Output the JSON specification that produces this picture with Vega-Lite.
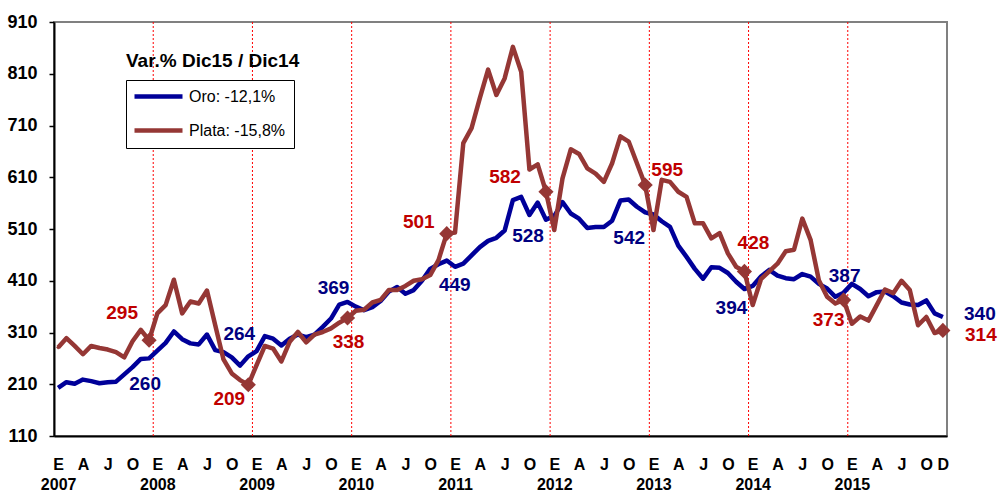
{
  "$schema": "https://vega.github.io/schema/vega-lite/v6.json",
  "width": 893,
  "height": 414,
  "autosize": {"type": "none"},
  "padding": {"left": 54, "top": 22, "right": 51, "bottom": 56},
  "background": "white",
  "config": {"font": "Liberation Sans", "view": {"stroke": "#808080", "strokeWidth": 2}},
  "title": {"text": "Var.% Dic15 / Dic14", "anchor": "start", "frame": "group", "dx": 72, "dy": 62, "fontSize": 19, "fontWeight": "bold", "color": "black", "font": "Liberation Sans"},
  "datasets": {
    "precios": [
      {"i":0,"oro":203,"plata":281},{"i":1,"oro":214,"plata":299},{"i":2,"oro":211,"plata":284},{"i":3,"oro":219,"plata":268},{"i":4,"oro":216,"plata":284},{"i":5,"oro":212,"plata":280},{"i":6,"oro":214,"plata":277},{"i":7,"oro":215,"plata":272},{"i":8,"oro":229,"plata":262},{"i":9,"oro":243,"plata":293},{"i":10,"oro":259,"plata":315},{"i":11,"oro":260,"plata":295},
      {"i":12,"oro":275,"plata":347},{"i":13,"oro":290,"plata":363},{"i":14,"oro":312,"plata":412},{"i":15,"oro":297,"plata":347},{"i":16,"oro":289,"plata":370},{"i":17,"oro":287,"plata":366},{"i":18,"oro":306,"plata":391},{"i":19,"oro":276,"plata":324},{"i":20,"oro":272,"plata":258},{"i":21,"oro":262,"plata":231},{"i":22,"oro":246,"plata":218},{"i":23,"oro":264,"plata":209},
      {"i":24,"oro":274,"plata":247},{"i":25,"oro":303,"plata":284},{"i":26,"oro":298,"plata":279},{"i":27,"oro":285,"plata":254},{"i":28,"oro":298,"plata":292},{"i":29,"oro":306,"plata":311},{"i":30,"oro":301,"plata":291},{"i":31,"oro":306,"plata":306},{"i":32,"oro":321,"plata":311},{"i":33,"oro":337,"plata":318},{"i":34,"oro":364,"plata":329},{"i":35,"oro":369,"plata":338},
      {"i":36,"oro":360,"plata":352},{"i":37,"oro":353,"plata":354},{"i":38,"oro":359,"plata":368},{"i":39,"oro":371,"plata":373},{"i":40,"oro":389,"plata":392},{"i":41,"oro":398,"plata":392},{"i":42,"oro":385,"plata":400},{"i":43,"oro":392,"plata":410},{"i":44,"oro":410,"plata":413},{"i":45,"oro":433,"plata":421},{"i":46,"oro":442,"plata":450},{"i":47,"oro":449,"plata":501},
      {"i":48,"oro":437,"plata":503},{"i":49,"oro":443,"plata":676},{"i":50,"oro":459,"plata":705},{"i":51,"oro":475,"plata":763},{"i":52,"oro":487,"plata":818},{"i":53,"oro":493,"plata":769},{"i":54,"oro":507,"plata":801},{"i":55,"oro":566,"plata":862},{"i":56,"oro":572,"plata":814},{"i":57,"oro":537,"plata":625},{"i":58,"oro":561,"plata":635},{"i":59,"oro":528,"plata":582},
      {"i":60,"oro":535,"plata":508},{"i":61,"oro":562,"plata":608},{"i":62,"oro":540,"plata":664},{"i":63,"oro":530,"plata":655},{"i":64,"oro":512,"plata":627},{"i":65,"oro":514,"plata":617},{"i":66,"oro":514,"plata":601},{"i":67,"oro":526,"plata":637},{"i":68,"oro":565,"plata":689},{"i":69,"oro":567,"plata":679},{"i":70,"oro":553,"plata":637},{"i":71,"oro":542,"plata":595},
      {"i":72,"oro":538,"plata":508},{"i":73,"oro":525,"plata":605},{"i":74,"oro":514,"plata":601},{"i":75,"oro":478,"plata":582},{"i":76,"oro":456,"plata":572},{"i":77,"oro":433,"plata":521},{"i":78,"oro":414,"plata":521},{"i":79,"oro":436,"plata":492},{"i":80,"oro":435,"plata":502},{"i":81,"oro":425,"plata":463},{"i":82,"oro":408,"plata":437},{"i":83,"oro":394,"plata":428},
      {"i":84,"oro":400,"plata":363},{"i":85,"oro":418,"plata":413},{"i":86,"oro":431,"plata":428},{"i":87,"oro":420,"plata":443},{"i":88,"oro":415,"plata":467},{"i":89,"oro":413,"plata":470},{"i":90,"oro":423,"plata":530},{"i":91,"oro":418,"plata":489},{"i":92,"oro":404,"plata":411},{"i":93,"oro":395,"plata":379},{"i":94,"oro":379,"plata":366},{"i":95,"oro":387,"plata":373},
      {"i":96,"oro":404,"plata":327},{"i":97,"oro":394,"plata":341},{"i":98,"oro":380,"plata":333},{"i":99,"oro":388,"plata":363},{"i":100,"oro":389,"plata":393},{"i":101,"oro":380,"plata":386},{"i":102,"oro":368,"plata":410},{"i":103,"oro":364,"plata":392},{"i":104,"oro":363,"plata":324},{"i":105,"oro":372,"plata":340},{"i":106,"oro":347,"plata":309},{"i":107,"oro":340,"plata":314}
    ],
    "cortes": [{"i":11.5},{"i":23.5},{"i":35.5},{"i":47.5},{"i":59.5},{"i":71.5},{"i":83.5},{"i":95.5}]
  },
  "data": {"name": "precios"},
  "transform": [{"fold": ["oro", "plata"], "as": ["serie", "valor"]}],
  "encoding": {
    "x": {
      "field": "i", "type": "quantitative", "title": null,
      "scale": {"domain": [-0.5, 107.5], "nice": false, "zero": false},
      "axis": {
        "values": [0,3,6,9,12,15,18,21,24,27,30,33,36,39,42,45,48,51,54,57,60,63,66,69,72,75,78,81,84,87,90,93,96,99,102,105,107],
        "labelExpr": "datum.value == 107 ? 'D' : (datum.value % 12 == 0 ? ['E', toString(2007 + datum.value / 12)] : (datum.value % 12 == 3 ? 'A' : (datum.value % 12 == 6 ? 'J' : 'O')))",
        "ticks": false, "grid": false, "domainColor": "black", "domainWidth": 2,
        "labelFont": "Liberation Sans", "labelFontSize": 16, "labelFontWeight": "bold", "labelColor": "black",
        "labelPadding": 20, "labelBaseline": "top", "labelLineHeight": 20,
        "labelOverlap": false, "labelFlush": false, "labelBound": false
      }
    }
  },
  "layer": [
    {
      "data": {"name": "cortes"},
      "mark": {"type": "rule", "color": "#FF0000", "strokeWidth": 1, "strokeDash": [2, 2]},
      "encoding": {}
    },
    {
      "mark": {"type": "line", "strokeWidth": 4.5, "strokeJoin": "round"},
      "encoding": {
        "y": {
          "field": "valor", "type": "quantitative", "title": null,
          "scale": {"domain": [110, 910], "nice": false, "zero": false},
          "axis": {
            "values": [110,210,310,410,510,610,710,810,910],
            "grid": false, "domainColor": "black", "domainWidth": 2,
            "tickColor": "black", "tickSize": 5, "tickWidth": 1.5,
            "labelFont": "Liberation Sans", "labelFontSize": 18, "labelFontWeight": "bold", "labelColor": "black", "labelPadding": 12
          }
        },
        "color": {
          "field": "serie", "type": "nominal",
          "scale": {"domain": ["oro", "plata"], "range": ["#000099", "#953735"]},
          "legend": {
            "title": null, "orient": "none", "legendX": 72, "legendY": 58, "direction": "vertical",
            "symbolType": "M-4,0H4", "symbolSize": 144, "symbolStrokeWidth": 4.5, "symbolOffset": 16,
            "labelOffset": 22, "labelFont": "Liberation Sans", "labelFontSize": 16, "labelColor": "black",
            "labelExpr": "datum.label == 'oro' ? 'Oro: -12,1%' : 'Plata: -15,8%'",
            "strokeColor": "black", "fillColor": "white", "padding": 8, "rowPadding": 15
          }
        }
      }
    },
    {
      "transform": [{"filter": "datum.serie == 'plata'"}],
      "mark": {"type": "point", "shape": "diamond", "filled": true, "size": 16, "color": "#953735", "opacity": 1},
      "encoding": {"y": {"field": "valor", "type": "quantitative", "title": null}}
    },
    {
      "transform": [{"filter": "datum.serie == 'plata' && datum.i % 12 == 11"}],
      "mark": {"type": "point", "shape": "diamond", "filled": true, "size": 230, "color": "#953735", "opacity": 1},
      "encoding": {"y": {"field": "valor", "type": "quantitative", "title": null}}
    },
    {"transform": [{"filter": "datum.serie == 'oro' && datum.i == 11"}], "mark": {"type": "text", "dx": -4, "dy": 26, "fontSize": 19, "fontWeight": "bold", "color": "#000080"}, "encoding": {"y": {"field": "valor", "type": "quantitative", "title": null}, "text": {"field": "valor"}}},
    {"transform": [{"filter": "datum.serie == 'oro' && datum.i == 23"}], "mark": {"type": "text", "dx": -9, "dy": -22, "fontSize": 19, "fontWeight": "bold", "color": "#000080"}, "encoding": {"y": {"field": "valor", "type": "quantitative", "title": null}, "text": {"field": "valor"}}},
    {"transform": [{"filter": "datum.serie == 'oro' && datum.i == 35"}], "mark": {"type": "text", "dx": -14, "dy": -14, "fontSize": 19, "fontWeight": "bold", "color": "#000080"}, "encoding": {"y": {"field": "valor", "type": "quantitative", "title": null}, "text": {"field": "valor"}}},
    {"transform": [{"filter": "datum.serie == 'oro' && datum.i == 47"}], "mark": {"type": "text", "dx": 8, "dy": 24, "fontSize": 19, "fontWeight": "bold", "color": "#000080"}, "encoding": {"y": {"field": "valor", "type": "quantitative", "title": null}, "text": {"field": "valor"}}},
    {"transform": [{"filter": "datum.serie == 'oro' && datum.i == 59"}], "mark": {"type": "text", "dx": -18, "dy": 16, "fontSize": 19, "fontWeight": "bold", "color": "#000080"}, "encoding": {"y": {"field": "valor", "type": "quantitative", "title": null}, "text": {"field": "valor"}}},
    {"transform": [{"filter": "datum.serie == 'oro' && datum.i == 71"}], "mark": {"type": "text", "dx": -16, "dy": 26, "fontSize": 19, "fontWeight": "bold", "color": "#000080"}, "encoding": {"y": {"field": "valor", "type": "quantitative", "title": null}, "text": {"field": "valor"}}},
    {"transform": [{"filter": "datum.serie == 'oro' && datum.i == 83"}], "mark": {"type": "text", "dx": -13, "dy": 19, "fontSize": 19, "fontWeight": "bold", "color": "#000080"}, "encoding": {"y": {"field": "valor", "type": "quantitative", "title": null}, "text": {"field": "valor"}}},
    {"transform": [{"filter": "datum.serie == 'oro' && datum.i == 95"}], "mark": {"type": "text", "dx": 1, "dy": -17, "fontSize": 19, "fontWeight": "bold", "color": "#000080"}, "encoding": {"y": {"field": "valor", "type": "quantitative", "title": null}, "text": {"field": "valor"}}},
    {"transform": [{"filter": "datum.serie == 'oro' && datum.i == 107"}], "mark": {"type": "text", "dx": 37, "dy": -3, "fontSize": 19, "fontWeight": "bold", "color": "#000080"}, "encoding": {"y": {"field": "valor", "type": "quantitative", "title": null}, "text": {"field": "valor"}}},
    {"transform": [{"filter": "datum.serie == 'plata' && datum.i == 11"}], "mark": {"type": "text", "dx": -27, "dy": -27, "fontSize": 19, "fontWeight": "bold", "color": "#C00000"}, "encoding": {"y": {"field": "valor", "type": "quantitative", "title": null}, "text": {"field": "valor"}}},
    {"transform": [{"filter": "datum.serie == 'plata' && datum.i == 23"}], "mark": {"type": "text", "dx": -19, "dy": 14, "fontSize": 19, "fontWeight": "bold", "color": "#C00000"}, "encoding": {"y": {"field": "valor", "type": "quantitative", "title": null}, "text": {"field": "valor"}}},
    {"transform": [{"filter": "datum.serie == 'plata' && datum.i == 35"}], "mark": {"type": "text", "dx": 1, "dy": 24, "fontSize": 19, "fontWeight": "bold", "color": "#C00000"}, "encoding": {"y": {"field": "valor", "type": "quantitative", "title": null}, "text": {"field": "valor"}}},
    {"transform": [{"filter": "datum.serie == 'plata' && datum.i == 47"}], "mark": {"type": "text", "dx": -28, "dy": -12, "fontSize": 19, "fontWeight": "bold", "color": "#C00000"}, "encoding": {"y": {"field": "valor", "type": "quantitative", "title": null}, "text": {"field": "valor"}}},
    {"transform": [{"filter": "datum.serie == 'plata' && datum.i == 59"}], "mark": {"type": "text", "dx": -41, "dy": -15, "fontSize": 19, "fontWeight": "bold", "color": "#C00000"}, "encoding": {"y": {"field": "valor", "type": "quantitative", "title": null}, "text": {"field": "valor"}}},
    {"transform": [{"filter": "datum.serie == 'plata' && datum.i == 71"}], "mark": {"type": "text", "dx": 22, "dy": -15, "fontSize": 19, "fontWeight": "bold", "color": "#C00000"}, "encoding": {"y": {"field": "valor", "type": "quantitative", "title": null}, "text": {"field": "valor"}}},
    {"transform": [{"filter": "datum.serie == 'plata' && datum.i == 83"}], "mark": {"type": "text", "dx": 9, "dy": -28, "fontSize": 19, "fontWeight": "bold", "color": "#C00000"}, "encoding": {"y": {"field": "valor", "type": "quantitative", "title": null}, "text": {"field": "valor"}}},
    {"transform": [{"filter": "datum.serie == 'plata' && datum.i == 95"}], "mark": {"type": "text", "dx": -15, "dy": 20, "fontSize": 19, "fontWeight": "bold", "color": "#C00000"}, "encoding": {"y": {"field": "valor", "type": "quantitative", "title": null}, "text": {"field": "valor"}}},
    {"transform": [{"filter": "datum.serie == 'plata' && datum.i == 107"}], "mark": {"type": "text", "dx": 38, "dy": 5, "fontSize": 19, "fontWeight": "bold", "color": "#C00000"}, "encoding": {"y": {"field": "valor", "type": "quantitative", "title": null}, "text": {"field": "valor"}}}
  ]
}
